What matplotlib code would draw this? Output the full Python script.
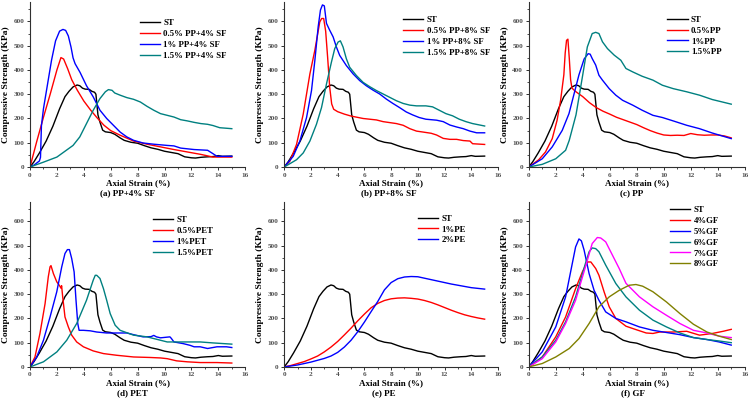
import matplotlib
matplotlib.use("Agg")
import matplotlib.pyplot as plt
from matplotlib.ticker import MultipleLocator

plt.rcParams['font.family'] = ['Liberation Serif', 'DejaVu Serif']
plt.rcParams['font.weight'] = 'bold'

# --- colours ---
BLACK, RED, BLUE, TEAL, MAG, OLIVE = 'black', '#ff0000', '#0000ff', '#008080', '#ff00ff', '#808000'

# --- untreated soil (ST), same curve in every panel ---
st_x = [0, 0.3, 0.7, 1.2, 1.7, 2.2, 2.6, 2.9, 3.2, 3.5, 3.7, 3.9, 4.1, 4.4, 4.6, 4.8, 4.9, 5.05, 5.2,
        5.4, 5.6, 6.0, 6.3, 6.7, 7.0, 7.5, 8.0, 8.5, 9.0, 9.5, 10.0, 10.5, 11.0, 11.5, 12.0, 12.3,
        12.7, 13.2, 13.6, 14.0, 14.3, 15.0]
st_y = [0, 22, 58, 107, 168, 240, 290, 312, 330, 338, 335, 325, 321, 320, 312, 308, 300, 215, 185,
        152, 145, 142, 135, 120, 110, 102, 98, 88, 79, 73, 65, 60, 55, 42, 38, 37,
        40, 42, 43, 47, 44, 45]

# --- (a) PP+4% SF ---
a_red_x = [0, 0.5, 1.0, 1.5, 2.0, 2.3, 2.5, 2.8, 3.1, 3.5, 4.0, 4.5, 5.0, 5.5, 6.0, 6.7, 7.7, 8.7,
           9.7, 10.7, 11.7, 12.7, 13.6, 15]
a_red_y = [0, 105, 205, 300, 400, 451, 445, 405, 360, 318, 272, 235, 202, 172, 150, 131, 107, 94,
           83, 72, 62, 52, 41, 41]
a_blue_x = [0, 0.3, 0.7, 0.78, 0.85, 1.0, 1.3, 1.6, 1.9, 2.2, 2.45, 2.65, 2.85, 3.05, 3.2, 3.35,
            3.72, 4.2, 4.7, 5.2, 5.7, 6.2, 6.7, 7.2, 7.7, 8.4, 9.2, 10.2, 10.7, 11.2, 12.2, 13.2,
            13.6, 13.9, 15]
a_blue_y = [0, 8, 25, 40, 170, 240, 340, 440, 520, 560, 567, 563, 540, 494, 450, 426,
            390, 335, 289, 234, 200, 172, 144, 124, 110, 99, 94, 89, 87, 78, 72, 69,
            55, 44, 44]
a_teal_x = [0, 1, 2, 2.7, 3.2, 3.7, 4.2, 4.7, 5.2, 5.6, 5.83, 6.1, 6.3, 6.7, 7.2, 7.7, 8.2, 8.7,
            9.2, 9.7, 10.2, 10.7, 11.2, 11.7, 12.2, 12.7, 13.2, 13.6, 14.1, 15]
a_teal_y = [0, 20, 41, 69, 89, 124, 179, 234, 282, 310, 319, 316, 305, 296, 286, 279, 268, 250,
            234, 220, 213, 206, 195, 190, 184, 179, 176, 171, 162, 158]

# --- (b) PP+8% SF ---
b_red_x = [0, 0.42, 0.92, 1.42, 1.92, 2.29, 2.66, 2.8, 2.95, 3.1, 3.25, 3.4, 3.55, 3.7, 4.0, 4.5,
           5.0, 5.9, 6.9, 7.4, 7.9, 8.4, 8.9, 9.4, 9.9, 10.4, 11.0, 11.4, 11.9, 12.4, 12.9, 13.4,
           13.9, 14.1, 15]
b_red_y = [0, 24, 93, 218, 384, 481, 598, 612, 612, 560, 450, 330, 260, 238, 228, 218,
           210, 200, 194, 187, 183, 179, 172, 158, 148, 144, 139, 132, 118, 114, 114, 109,
           107, 96, 93]
b_blue_x = [0, 0.67, 1.17, 1.67, 2.04, 2.29, 2.54, 2.71, 2.86, 3.0, 3.16, 3.4, 3.66, 3.9, 4.15,
            4.65, 5.15, 5.65, 6.14, 6.64, 7.14, 7.64, 8.13, 8.63, 9.13, 9.6, 10.1, 10.6, 11.4,
            11.9, 12.4, 12.9, 13.4, 13.9, 14.4, 15]
b_blue_y = [0, 44, 107, 204, 315, 439, 578, 647, 668, 664, 592, 564, 536, 495, 460,
            418, 384, 356, 335, 317, 301, 280, 262, 245, 227, 215, 204, 197, 193,
            187, 173, 165, 158, 148, 141, 141]
b_teal_x = [0, 0.92, 1.42, 1.92, 2.41, 2.79, 3.16, 3.53, 3.78, 4.03, 4.2, 4.4, 4.65, 4.9, 5.4,
            5.9, 6.4, 6.9, 7.4, 7.9, 8.4, 8.9, 9.4, 9.9, 10.6, 11.1, 11.6, 12.1, 12.6, 13.1,
            13.6, 14.1, 15]
b_teal_y = [0, 30, 58, 107, 176, 245, 342, 432, 488, 515, 520, 495, 446, 411, 377,
            349, 331, 315, 301, 287, 273, 262, 255, 252, 252, 248, 234, 220, 211, 197,
            187, 179, 169]

# --- (c) PP ---
c_red_x = [0, 0.74, 1.24, 1.74, 2.1, 2.36, 2.6, 2.7, 2.8, 2.9, 3.0, 3.1, 3.2, 3.5, 4.0, 4.5, 5.0,
           5.5, 6.0, 6.5, 7.0, 7.5, 8.0, 8.5, 9.0, 9.5, 10.0, 10.5, 11.0, 11.5, 12.0, 12.5, 13.0,
           13.5, 14.0, 14.5, 15]
c_red_y = [0, 30, 62, 117, 193, 275, 380, 470, 522, 527, 450, 360, 325, 310, 290, 265, 245,
           230, 218, 205, 195, 185, 175, 162, 150, 140, 132, 130, 131, 130, 138, 133, 131,
           132, 132, 128, 120]
c_blue_x = [0, 1.0, 1.74, 2.48, 2.98, 3.35, 3.72, 4.1, 4.4, 4.55, 4.7, 4.96, 5.2, 5.46, 5.96,
            6.45, 6.95, 7.7, 8.4, 9.2, 9.9, 10.7, 11.7, 12.65, 13.6, 15]
c_blue_y = [0, 34, 83, 151, 220, 300, 380, 445, 467, 465, 447, 420, 378, 358, 323,
            296, 275, 255, 234, 213, 204, 190, 172, 158, 140, 117]
c_teal_x = [0, 1.0, 2.0, 2.73, 3.0, 3.5, 4.0, 4.34, 4.7, 4.96, 5.2, 5.46, 5.83, 6.33, 6.82, 7.2,
            7.7, 8.4, 9.2, 9.9, 10.7, 11.7, 12.65, 13.6, 15]
c_teal_y = [0, 11, 34, 69, 110, 215, 380, 495, 550, 555, 550, 516, 488, 461, 440, 406,
            392, 374, 358, 337, 323, 310, 296, 278, 259]

# --- (d) PET ---
d_red_x = [0, 0.37, 0.74, 1.12, 1.36, 1.49, 1.56, 1.74, 1.99, 2.2, 2.3, 2.35, 2.43, 2.6, 2.85,
           3.1, 3.47, 3.97, 4.7, 5.46, 6.45, 7.7, 8.9, 9.7, 10.2, 10.9, 11.7, 12.65, 13.9, 15]
d_red_y = [0, 41, 138, 261, 372, 413, 418, 385, 351, 335, 325, 335, 289, 206, 165,
           131, 103, 83, 66, 55, 48, 41, 39, 37, 34, 25, 21, 18, 18, 16]
d_blue_x = [0, 0.5, 1.0, 1.49, 1.99, 2.36, 2.6, 2.78, 2.93, 3.1, 3.28, 3.42, 3.55, 3.65, 3.97,
            4.47, 4.96, 5.7, 6.45, 7.2, 7.7, 8.4, 9.0, 9.2, 9.4, 9.7, 10.4, 10.5, 10.7, 11.4,
            11.9, 12.2, 12.65, 13.2, 13.9, 14.6, 15]
d_blue_y = [0, 41, 110, 206, 310, 413, 468, 484, 484, 447, 392, 275, 179, 151, 151,
            149, 144, 140, 140, 140, 133, 124, 125, 130, 124, 120, 124, 118, 103, 96,
            89, 83, 83, 76, 83, 83, 80]
d_teal_x = [0, 1.0, 2.0, 2.73, 3.47, 4.2, 4.7, 4.85, 4.96, 5.2, 5.46, 5.7, 5.96, 6.33, 6.7, 7.7,
            8.7, 9.7, 10.2, 11.2, 12.65, 13.6, 15]
d_teal_y = [0, 21, 62, 110, 179, 275, 358, 378, 378, 365, 323, 275, 220, 172, 151, 131,
            124, 110, 103, 103, 103, 99, 94]

# --- (e) PE ---
e_red_x = [0, 0.5, 1, 1.5, 2, 2.5, 3, 3.5, 4, 4.5, 5, 5.5, 6, 6.5, 7, 7.5, 8, 8.5, 9, 9.5, 10,
           10.5, 11, 11.5, 12, 12.5, 13, 13.5, 14, 14.5, 15]
e_red_y = [0, 6, 14, 22, 33, 45, 62, 82, 105, 132, 160, 190, 218, 244, 262, 274, 281, 284, 285,
           283, 280, 274, 266, 256, 245, 234, 224, 215, 208, 202, 197]
e_blue_x = [0, 1, 2, 3, 3.5, 4, 4.5, 5, 5.5, 6, 6.5, 7, 7.5, 8, 8.5, 9, 9.5, 10, 10.5, 11, 11.5,
            12, 12.5, 13, 13.5, 14, 14.5, 15]
e_blue_y = [0, 8, 20, 35, 45, 60, 82, 110, 145, 185, 228, 270, 318, 348, 364, 371, 373, 372,
            366, 360, 354, 348, 342, 337, 332, 327, 324, 321]

# --- (f) GF ---
f_red_x = [0, 1, 2, 2.73, 3.47, 3.97, 4.34, 4.6, 4.96, 5.2, 5.58, 5.96, 6.45, 7.2, 7.94, 8.7, 9.2,
           9.7, 10.7, 11.7, 12.65, 13.6, 14.4, 15]
f_red_y = [0, 41, 124, 206, 323, 392, 433, 433, 406, 378, 310, 248, 200, 168, 154, 140, 138,
           144, 144, 147, 131, 138, 147, 155]
f_blue_x = [0, 1, 2, 2.73, 3.1, 3.47, 3.72, 3.9, 4.1, 4.47, 4.84, 5.2, 5.7, 6.45, 7.2, 8.2, 9.2,
            10.2, 11.2, 12.2, 13.2, 14.1, 15]
f_blue_y = [0, 62, 165, 289, 392, 495, 528, 520, 482, 385, 316, 275, 227, 200, 186, 165, 151,
            142, 133, 121, 113, 103, 90]
f_teal_x = [0, 1, 2, 2.73, 3.47, 4.2, 4.47, 4.7, 4.96, 5.2, 5.7, 6.45, 7.2, 8.2, 9.2, 10.2, 11.2,
            12.2, 13.2, 14.1, 15]
f_teal_y = [0, 41, 110, 186, 289, 427, 475, 491, 488, 475, 420, 344, 289, 234, 193, 165, 140,
            121, 113, 107, 100]
f_mag_x = [0, 1, 2, 2.73, 3.47, 4.2, 4.7, 5.08, 5.33, 5.7, 6.2, 6.7, 7.2, 8.2, 9.2, 10.2, 11.2,
           12.2, 13.2, 14.1, 15]
f_mag_y = [0, 34, 103, 179, 275, 413, 509, 534, 532, 516, 461, 406, 345, 289, 248, 213, 179,
           151, 140, 127, 121]
f_olive_x = [0, 1, 2, 3, 3.72, 4.47, 5.2, 5.96, 6.7, 7.44, 7.94, 8.44, 9.2, 10.2, 11.2, 12.2,
             13.2, 14.1, 15]
f_olive_y = [0, 14, 41, 76, 117, 179, 248, 289, 316, 337, 340, 333, 310, 268, 220, 176,
             144, 127, 113]

panels = [
    ([0.040, 0.5835, 0.287, 0.4115], "(a) PP+4% SF", 0.453, (0.51, 0.895),
     [(st_x, st_y, BLACK, "ST"), (a_red_x, a_red_y, RED, "0.5% PP+4% SF"),
      (a_blue_x, a_blue_y, BLUE, "1% PP+4% SF"), (a_teal_x, a_teal_y, TEAL, "1.5% PP+4% SF")]),
    ([0.379, 0.5835, 0.285, 0.4115], "(b) PP+8% SF", 0.49, (0.556, 0.914),
     [(st_x, st_y, BLACK, "ST"), (b_red_x, b_red_y, RED, "0.5% PP+8% SF"),
      (b_blue_x, b_blue_y, BLUE, "1% PP+8% SF"), (b_teal_x, b_teal_y, TEAL, "1.5% PP+8% SF")]),
    ([0.705, 0.5835, 0.288, 0.4115], "(c) PP", 0.478, (0.642, 0.918),
     [(st_x, st_y, BLACK, "ST"), (c_red_x, c_red_y, RED, "0.5%PP"),
      (c_blue_x, c_blue_y, BLUE, "1%PP"), (c_teal_x, c_teal_y, TEAL, "1.5%PP")]),
    ([0.040, 0.085, 0.287, 0.411], "(d) PET", 0.476, (0.571, 0.915),
     [(st_x, st_y, BLACK, "ST"), (d_red_x, d_red_y, RED, "0.5%PET"),
      (d_blue_x, d_blue_y, BLUE, "1%PET"), (d_teal_x, d_teal_y, TEAL, "1.5%PET")]),
    ([0.379, 0.085, 0.285, 0.411], "(e) PE", 0.467, (0.626, 0.925),
     [(st_x, st_y, BLACK, "ST"), (e_red_x, e_red_y, RED, "1%PE"),
      (e_blue_x, e_blue_y, BLUE, "2%PE")]),
    ([0.705, 0.085, 0.288, 0.411], "(f) GF", 0.483, (0.653, 0.978),
     [(st_x, st_y, BLACK, "ST"), (f_red_x, f_red_y, RED, "4%GF"),
      (f_blue_x, f_blue_y, BLUE, "5%GF"), (f_teal_x, f_teal_y, TEAL, "6%GF"),
      (f_mag_x, f_mag_y, MAG, "7%GF"), (f_olive_x, f_olive_y, OLIVE, "8%GF")]),
]

fig = plt.figure(figsize=(7.5, 4.01), dpi=100)

for rect, title, tx, leg_anchor, series in panels:
    ax = fig.add_axes(rect)
    for xs, ys, col, lab in series:
        ax.plot(xs, ys, color=col, lw=1.0, label=lab)
    ax.set_xlim(0, 16)
    ax.set_ylim(0, 680)
    ax.xaxis.set_major_locator(MultipleLocator(2))
    ax.xaxis.set_minor_locator(MultipleLocator(1))
    ax.yaxis.set_major_locator(MultipleLocator(100))
    ax.yaxis.set_minor_locator(MultipleLocator(50))
    ax.spines['top'].set_visible(False)
    ax.spines['right'].set_visible(False)
    ax.tick_params(which='major', direction='out', length=2.5, width=0.7, labelsize=5.2,
                   labelcolor='#505050', color='#303030', pad=1.5)
    ax.tick_params(which='minor', direction='out', length=1.4, width=0.6, color='#303030')
    for s in ('left', 'bottom'):
        ax.spines[s].set_linewidth(0.8)
        ax.spines[s].set_color('#303030')
    ax.text(0.5, -0.098, "Axial Strain (%)", transform=ax.transAxes, ha='center', va='center',
            fontsize=6.5, fontweight='bold')
    ax.text(tx, -0.157, title, transform=ax.transAxes, ha='center', va='center',
            fontsize=6.5, fontweight='bold')
    ax.text(-0.112, 0.5, "Compressive Strength (KPa)", transform=ax.transAxes, rotation=90,
            ha='center', va='center', fontsize=6.8, fontweight='bold')
    ax.legend(loc='upper left', bbox_to_anchor=leg_anchor, frameon=False,
              borderaxespad=0, borderpad=0, handlelength=2.3, handletextpad=0.4,
              labelspacing=0.32, prop={'weight': 'bold', 'size': 6.3})

fig.savefig("out.png", dpi=100)
